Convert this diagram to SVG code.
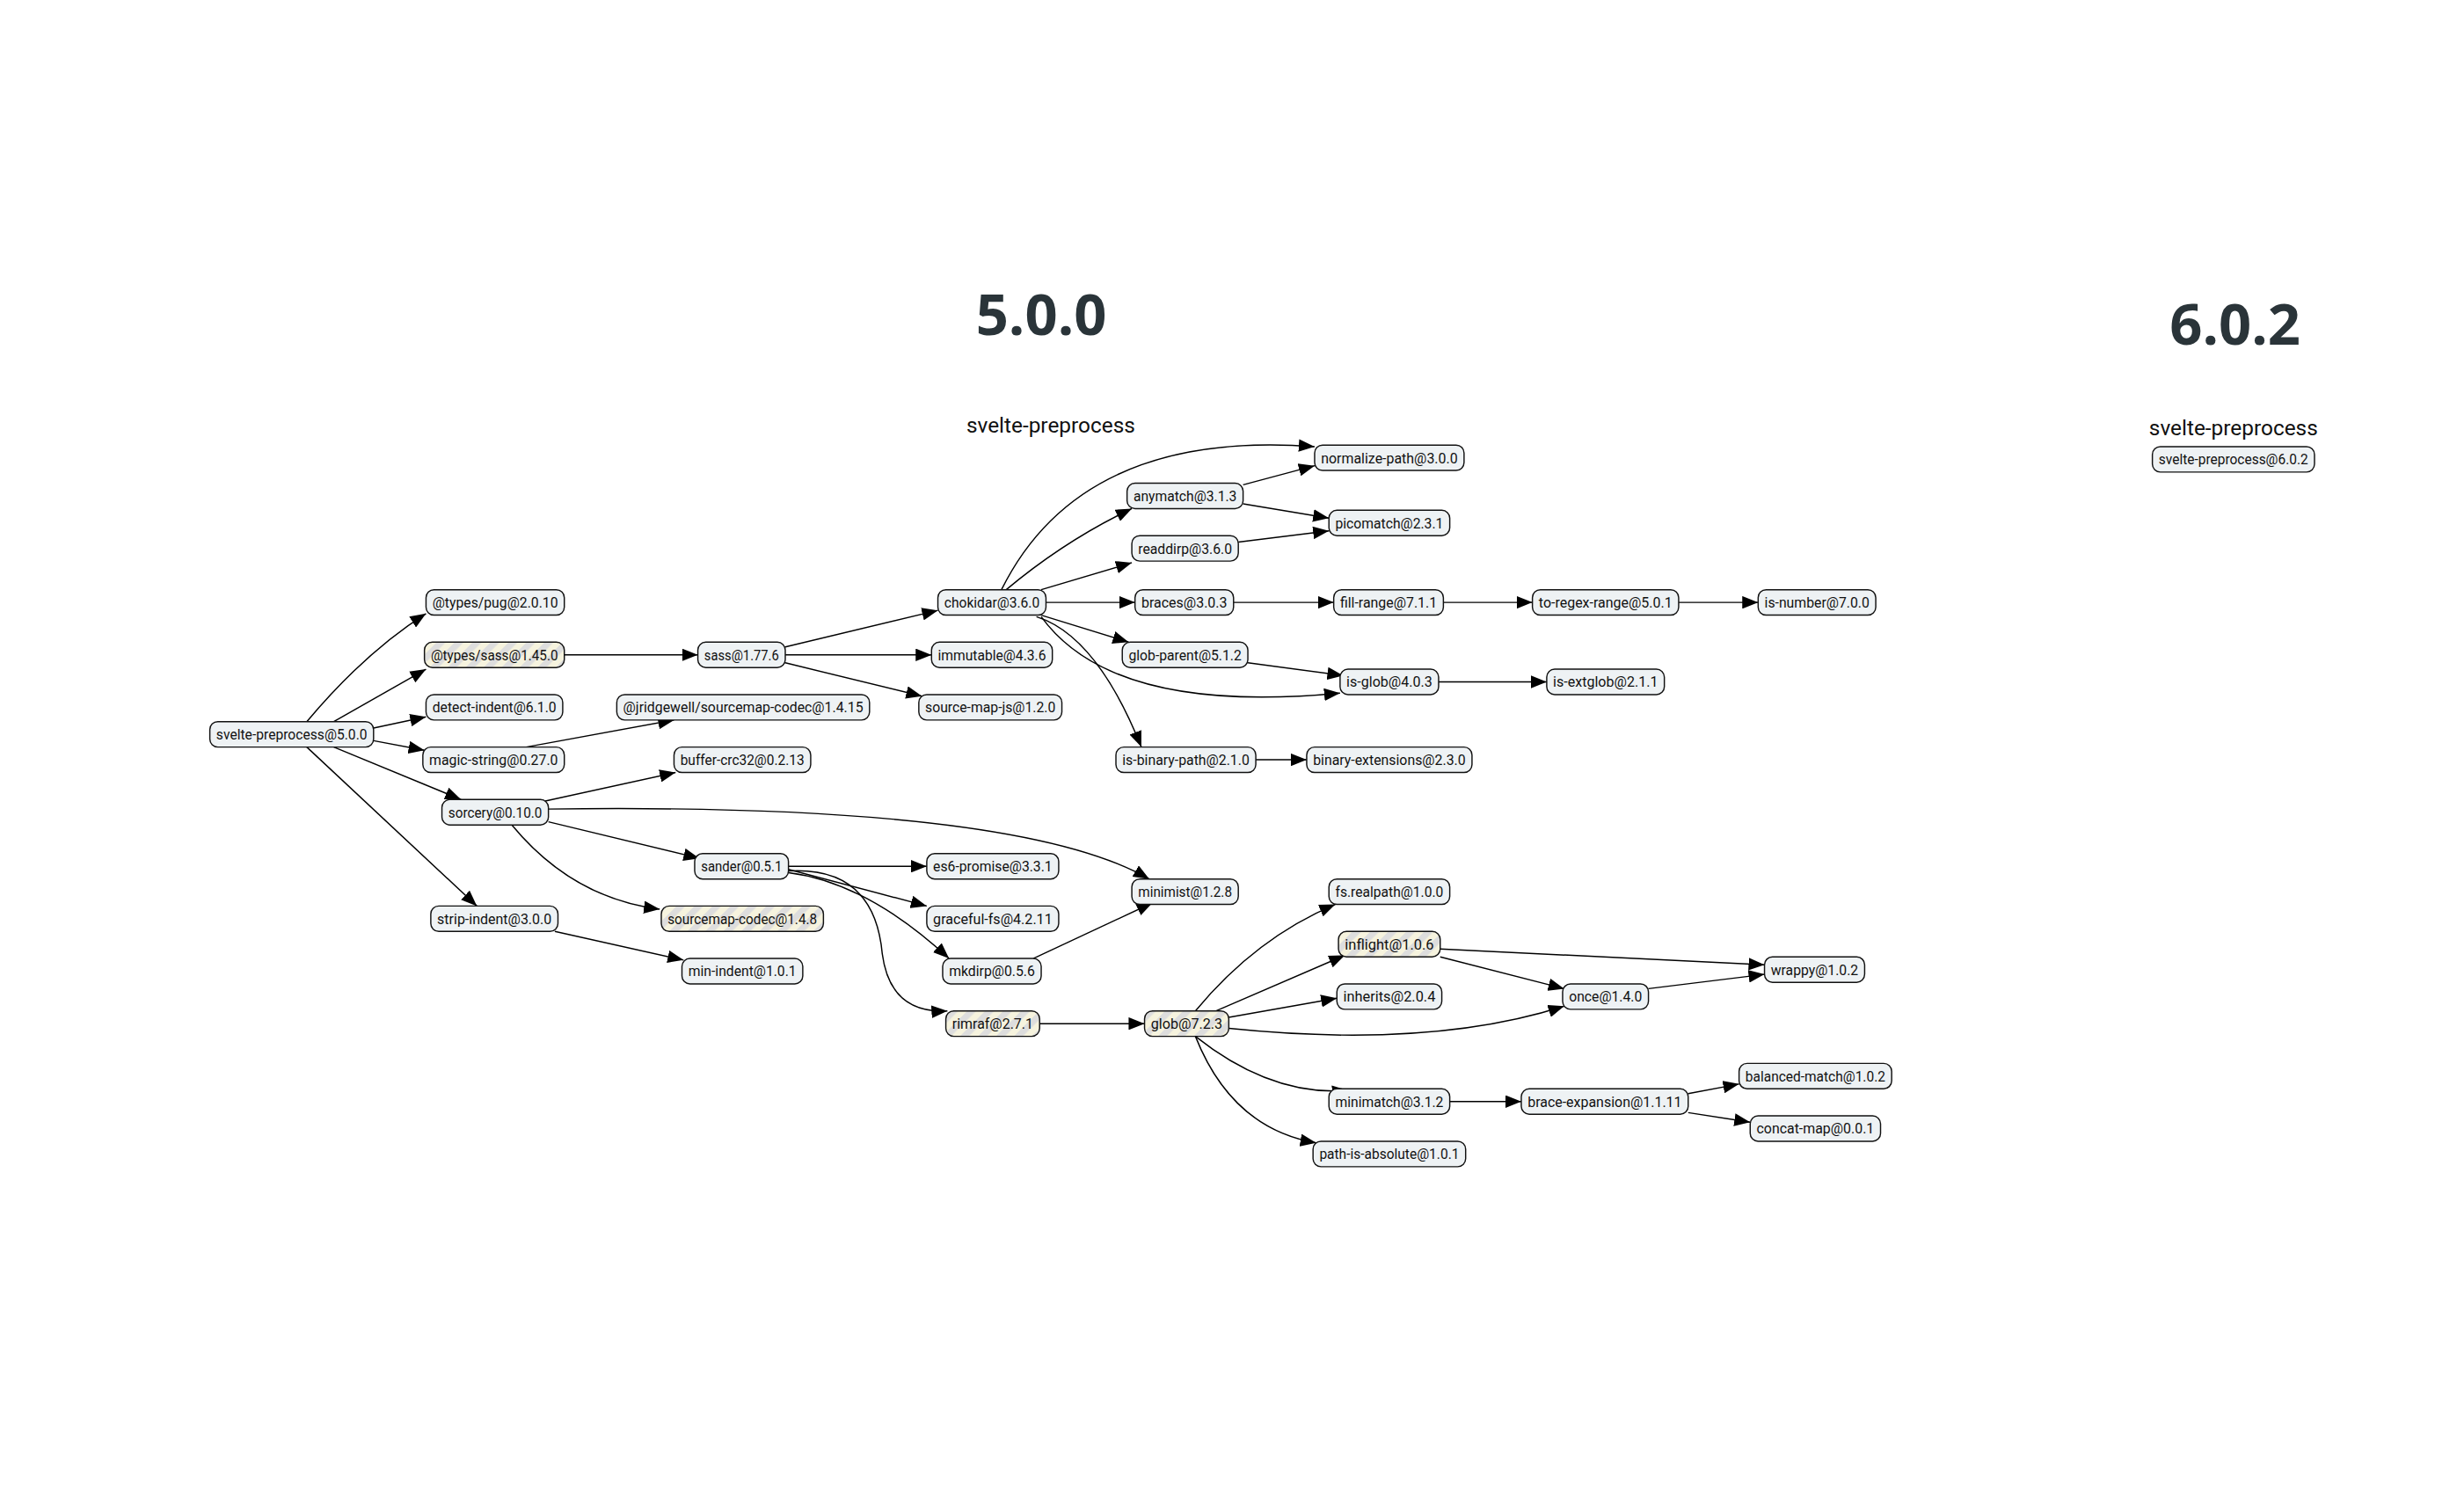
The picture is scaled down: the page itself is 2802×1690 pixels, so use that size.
<svg xmlns="http://www.w3.org/2000/svg" width="2802" height="1690" viewBox="0 0 2802 1690">
<defs>
<pattern id="stripe" patternUnits="userSpaceOnUse" width="8" height="8" patternTransform="rotate(45)">
<rect width="8" height="8" fill="#f6f3de"/><rect width="4" height="8" fill="#dddddd"/>
</pattern>
<marker id="arr" markerUnits="userSpaceOnUse" markerWidth="10" markerHeight="8" refX="10" refY="4" orient="auto"><path d="M0,0 L10,4 L0,8 z" fill="#000"/></marker>
<style>
.n rect{fill:#eef2f4;stroke:#111;stroke-width:0.8}
.n.s rect{fill:url(#stripe)}
.n text{font-family:Roboto,"Liberation Sans",sans-serif;font-size:9.5px;fill:#111;text-anchor:middle;dominant-baseline:central}
#edges path{fill:none;stroke:#000;stroke-width:0.8;marker-end:url(#arr)}
.title{font-family:"Open Sans","Liberation Sans",sans-serif;font-weight:bold;font-size:36px;fill:#2a3439;text-anchor:middle}
.lbl{font-family:Roboto,"Liberation Sans",sans-serif;font-size:13.5px;fill:#111;text-anchor:middle}
</style>
</defs>
<rect width="2802" height="1690" fill="#fff"/>
<g transform="scale(1.8077)">
<text class="title" x="655" y="211">5.0.0</text>
<text class="title" x="1406" y="217">6.0.2</text>
<text class="lbl" x="661" y="272">svelte-preprocess</text>
<text class="lbl" x="1405" y="274">svelte-preprocess</text>
<g id="edges">
<path d="M193,454 Q230,410 268,386"/>
<path d="M210,454 L268,421"/>
<path d="M235,458 L268,451"/>
<path d="M235,466 L267,472"/>
<path d="M210,470 L290,503"/>
<path d="M193,470 L300,570"/>
<path d="M331,470 L424,453"/>
<path d="M343,504 L425,486"/>
<path d="M345,509 Q640,505 723,553"/>
<path d="M345,517 L440,540"/>
<path d="M322,519 Q360,565 415,572"/>
<path d="M349,586 L430,604"/>
<path d="M355,412 L439,412"/>
<path d="M494,407 L590,384"/>
<path d="M494,412 L586,412"/>
<path d="M494,417 L580,438"/>
<path d="M496,545 L583,545"/>
<path d="M496,547 L583,570"/>
<path d="M496,549 Q545,555 597,603"/>
<path d="M496,548 Q550,545 555,600 Q560,638 596,636"/>
<path d="M650,603 L725,568"/>
<path d="M654,644 L720,644"/>
<path d="M630,371 Q680,270 827,281"/>
<path d="M633,371 Q670,340 712,320"/>
<path d="M655,371 L712,354"/>
<path d="M658,379 L714,379"/>
<path d="M655,387 L710,404"/>
<path d="M655,388 Q700,450 843,436"/>
<path d="M652,388 Q690,400 718,470"/>
<path d="M782,305 L827,293"/>
<path d="M782,317 L836,326"/>
<path d="M779,341 L836,334"/>
<path d="M776,379 L839,379"/>
<path d="M908,379 L964,379"/>
<path d="M1056,379 L1106,379"/>
<path d="M785,417 L845,425"/>
<path d="M905,429 L973,429"/>
<path d="M790,478 L822,478"/>
<path d="M752,636 Q790,590 840,569"/>
<path d="M765,636 L846,601"/>
<path d="M773,640 L841,628"/>
<path d="M773,647 Q900,660 984,633"/>
<path d="M752,652 Q800,690 848,686"/>
<path d="M752,652 Q775,710 828,719"/>
<path d="M906,597 L1110,607"/>
<path d="M906,602 L984,622"/>
<path d="M1037,622 L1110,613"/>
<path d="M912,693 L957,693"/>
<path d="M1062,688 L1094,682"/>
<path d="M1062,700 L1101,706"/>
</g>
<g id="n1" class="n"><rect x="132" y="454" width="103" height="16" rx="5"/><text x="183.5" y="462" textLength="95" lengthAdjust="spacingAndGlyphs">svelte-preprocess@5.0.0</text></g>
<g id="n2" class="n"><rect x="268" y="371" width="87" height="16" rx="5"/><text x="311.5" y="379" textLength="79" lengthAdjust="spacingAndGlyphs">@types/pug@2.0.10</text></g>
<g id="n3" class="n s"><rect x="267" y="404" width="88" height="16" rx="5"/><text x="311" y="412" textLength="80" lengthAdjust="spacingAndGlyphs">@types/sass@1.45.0</text></g>
<g id="n4" class="n"><rect x="268" y="437" width="86" height="16" rx="5"/><text x="311" y="445" textLength="78" lengthAdjust="spacingAndGlyphs">detect-indent@6.1.0</text></g>
<g id="n5" class="n"><rect x="266" y="470" width="89" height="16" rx="5"/><text x="310.5" y="478" textLength="81" lengthAdjust="spacingAndGlyphs">magic-string@0.27.0</text></g>
<g id="n6" class="n"><rect x="278" y="503" width="67" height="16" rx="5"/><text x="311.5" y="511" textLength="59" lengthAdjust="spacingAndGlyphs">sorcery@0.10.0</text></g>
<g id="n7" class="n"><rect x="271" y="570" width="80" height="16" rx="5"/><text x="311" y="578" textLength="72" lengthAdjust="spacingAndGlyphs">strip-indent@3.0.0</text></g>
<g id="n8" class="n"><rect x="388" y="437" width="159" height="16" rx="5"/><text x="467.5" y="445" textLength="151" lengthAdjust="spacingAndGlyphs">@jridgewell/sourcemap-codec@1.4.15</text></g>
<g id="n9" class="n"><rect x="424" y="470" width="86" height="16" rx="5"/><text x="467" y="478" textLength="78" lengthAdjust="spacingAndGlyphs">buffer-crc32@0.2.13</text></g>
<g id="n10" class="n"><rect x="439" y="404" width="55" height="16" rx="5"/><text x="466.5" y="412" textLength="47" lengthAdjust="spacingAndGlyphs">sass@1.77.6</text></g>
<g id="n11" class="n"><rect x="437" y="537" width="59" height="16" rx="5"/><text x="466.5" y="545" textLength="51" lengthAdjust="spacingAndGlyphs">sander@0.5.1</text></g>
<g id="n12" class="n s"><rect x="416" y="570" width="102" height="16" rx="5"/><text x="467" y="578" textLength="94" lengthAdjust="spacingAndGlyphs">sourcemap-codec@1.4.8</text></g>
<g id="n13" class="n"><rect x="429" y="603" width="76" height="16" rx="5"/><text x="467" y="611" textLength="68" lengthAdjust="spacingAndGlyphs">min-indent@1.0.1</text></g>
<g id="n14" class="n"><rect x="590" y="371" width="68" height="16" rx="5"/><text x="624" y="379" textLength="60" lengthAdjust="spacingAndGlyphs">chokidar@3.6.0</text></g>
<g id="n15" class="n"><rect x="586" y="404" width="76" height="16" rx="5"/><text x="624" y="412" textLength="68" lengthAdjust="spacingAndGlyphs">immutable@4.3.6</text></g>
<g id="n16" class="n"><rect x="578" y="437" width="90" height="16" rx="5"/><text x="623" y="445" textLength="82" lengthAdjust="spacingAndGlyphs">source-map-js@1.2.0</text></g>
<g id="n17" class="n"><rect x="583" y="537" width="83" height="16" rx="5"/><text x="624.5" y="545" textLength="75" lengthAdjust="spacingAndGlyphs">es6-promise@3.3.1</text></g>
<g id="n18" class="n"><rect x="583" y="570" width="83" height="16" rx="5"/><text x="624.5" y="578" textLength="75" lengthAdjust="spacingAndGlyphs">graceful-fs@4.2.11</text></g>
<g id="n19" class="n"><rect x="593" y="603" width="62" height="16" rx="5"/><text x="624" y="611" textLength="54" lengthAdjust="spacingAndGlyphs">mkdirp@0.5.6</text></g>
<g id="n20" class="n s"><rect x="595" y="636" width="59" height="16" rx="5"/><text x="624.5" y="644" textLength="51" lengthAdjust="spacingAndGlyphs">rimraf@2.7.1</text></g>
<g id="n21" class="n"><rect x="712" y="553" width="67" height="16" rx="5"/><text x="745.5" y="561" textLength="59" lengthAdjust="spacingAndGlyphs">minimist@1.2.8</text></g>
<g id="n22" class="n s"><rect x="720" y="636" width="53" height="16" rx="5"/><text x="746.5" y="644" textLength="45" lengthAdjust="spacingAndGlyphs">glob@7.2.3</text></g>
<g id="n23" class="n"><rect x="709" y="304" width="73" height="16" rx="5"/><text x="745.5" y="312" textLength="65" lengthAdjust="spacingAndGlyphs">anymatch@3.1.3</text></g>
<g id="n24" class="n"><rect x="712" y="337" width="67" height="16" rx="5"/><text x="745.5" y="345" textLength="59" lengthAdjust="spacingAndGlyphs">readdirp@3.6.0</text></g>
<g id="n25" class="n"><rect x="714" y="371" width="62" height="16" rx="5"/><text x="745" y="379" textLength="54" lengthAdjust="spacingAndGlyphs">braces@3.0.3</text></g>
<g id="n26" class="n"><rect x="706" y="404" width="79" height="16" rx="5"/><text x="745.5" y="412" textLength="71" lengthAdjust="spacingAndGlyphs">glob-parent@5.1.2</text></g>
<g id="n27" class="n"><rect x="702" y="470" width="88" height="16" rx="5"/><text x="746" y="478" textLength="80" lengthAdjust="spacingAndGlyphs">is-binary-path@2.1.0</text></g>
<g id="n28" class="n"><rect x="827" y="280" width="94" height="16" rx="5"/><text x="874" y="288" textLength="86" lengthAdjust="spacingAndGlyphs">normalize-path@3.0.0</text></g>
<g id="n29" class="n"><rect x="836" y="321" width="76" height="16" rx="5"/><text x="874" y="329" textLength="68" lengthAdjust="spacingAndGlyphs">picomatch@2.3.1</text></g>
<g id="n30" class="n"><rect x="839" y="371" width="69" height="16" rx="5"/><text x="873.5" y="379" textLength="61" lengthAdjust="spacingAndGlyphs">fill-range@7.1.1</text></g>
<g id="n31" class="n"><rect x="843" y="421" width="62" height="16" rx="5"/><text x="874" y="429" textLength="54" lengthAdjust="spacingAndGlyphs">is-glob@4.0.3</text></g>
<g id="n32" class="n"><rect x="822" y="470" width="104" height="16" rx="5"/><text x="874" y="478" textLength="96" lengthAdjust="spacingAndGlyphs">binary-extensions@2.3.0</text></g>
<g id="n33" class="n"><rect x="964" y="371" width="92" height="16" rx="5"/><text x="1010" y="379" textLength="84" lengthAdjust="spacingAndGlyphs">to-regex-range@5.0.1</text></g>
<g id="n34" class="n"><rect x="973" y="421" width="74" height="16" rx="5"/><text x="1010" y="429" textLength="66" lengthAdjust="spacingAndGlyphs">is-extglob@2.1.1</text></g>
<g id="n35" class="n"><rect x="1106" y="371" width="74" height="16" rx="5"/><text x="1143" y="379" textLength="66" lengthAdjust="spacingAndGlyphs">is-number@7.0.0</text></g>
<g id="n36" class="n"><rect x="836" y="553" width="76" height="16" rx="5"/><text x="874" y="561" textLength="68" lengthAdjust="spacingAndGlyphs">fs.realpath@1.0.0</text></g>
<g id="n37" class="n s"><rect x="842" y="586" width="64" height="16" rx="5"/><text x="874" y="594" textLength="56" lengthAdjust="spacingAndGlyphs">inflight@1.0.6</text></g>
<g id="n38" class="n"><rect x="841" y="619" width="66" height="16" rx="5"/><text x="874" y="627" textLength="58" lengthAdjust="spacingAndGlyphs">inherits@2.0.4</text></g>
<g id="n39" class="n"><rect x="836" y="685" width="76" height="16" rx="5"/><text x="874" y="693" textLength="68" lengthAdjust="spacingAndGlyphs">minimatch@3.1.2</text></g>
<g id="n40" class="n"><rect x="826" y="718" width="96" height="16" rx="5"/><text x="874" y="726" textLength="88" lengthAdjust="spacingAndGlyphs">path-is-absolute@1.0.1</text></g>
<g id="n41" class="n"><rect x="983" y="619" width="54" height="16" rx="5"/><text x="1010" y="627" textLength="46" lengthAdjust="spacingAndGlyphs">once@1.4.0</text></g>
<g id="n42" class="n"><rect x="1110" y="602" width="63" height="16" rx="5"/><text x="1141.5" y="610" textLength="55" lengthAdjust="spacingAndGlyphs">wrappy@1.0.2</text></g>
<g id="n43" class="n"><rect x="957" y="685" width="105" height="16" rx="5"/><text x="1009.5" y="693" textLength="97" lengthAdjust="spacingAndGlyphs">brace-expansion@1.1.11</text></g>
<g id="n44" class="n"><rect x="1094" y="669" width="96" height="16" rx="5"/><text x="1142" y="677" textLength="88" lengthAdjust="spacingAndGlyphs">balanced-match@1.0.2</text></g>
<g id="n45" class="n"><rect x="1101" y="702" width="82" height="16" rx="5"/><text x="1142" y="710" textLength="74" lengthAdjust="spacingAndGlyphs">concat-map@0.0.1</text></g>
<g id="n46" class="n"><rect x="1354" y="281" width="102" height="16" rx="5"/><text x="1405" y="289" textLength="94" lengthAdjust="spacingAndGlyphs">svelte-preprocess@6.0.2</text></g>
</g>
</svg>
